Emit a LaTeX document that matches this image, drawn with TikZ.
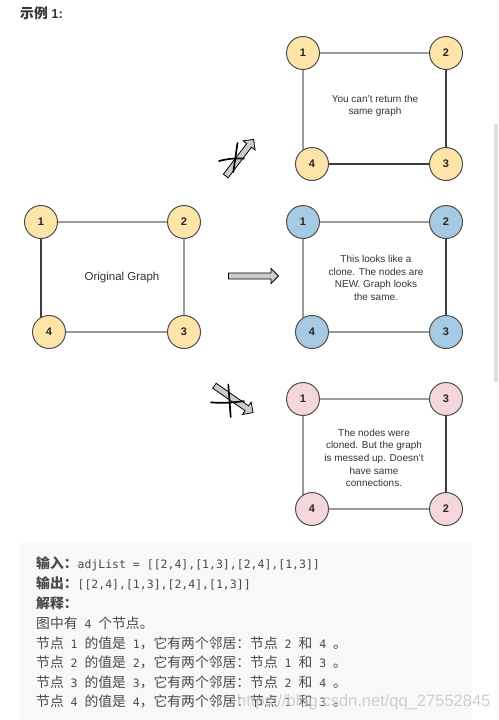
\documentclass[tikz,border=0pt]{standalone}
\usepackage{fontspec}
\setmainfont{Liberation Sans}
\newfontfamily\cjk{Noto Sans CJK SC}
\newfontfamily\codefont{DejaVu Sans Mono}
\usepackage{tikz}
\usetikzlibrary{shapes.arrows,backgrounds}
\definecolor{nodeyellow}{HTML}{FDE4A9}
\definecolor{nodeblue}{HTML}{A6CAE3}
\definecolor{nodepink}{HTML}{F5D6DC}
\definecolor{rimgray}{HTML}{4D4D4D}
\definecolor{edgelight}{HTML}{9A9A9A}
\definecolor{edgedark}{HTML}{3C3C3C}
\definecolor{codebg}{HTML}{F7F8FA}
\definecolor{inktext}{HTML}{333333}
\definecolor{codeink}{HTML}{4A4A4A}
\definecolor{bargray}{HTML}{E0E0E0}
\newcommand{\zh}[1]{{\cjk\fontsize{13.8}{13.8}\selectfont #1}}
\newcommand{\zhb}[1]{{\cjk\bfseries\fontsize{13.8}{13.8}\selectfont #1}}

\begin{document}
\begin{tikzpicture}
		[x=1pt, y=-1pt, inner sep=0pt,
		vertex/.style		= {draw=rimgray, circle, line width=1pt, minimum size=33pt, font=\bfseries\fontsize{11}{11}\selectfont, text=black!85},
		oldnode/.style		= {vertex, fill=nodeyellow},
		clonenode/.style	= {vertex, fill=nodeblue},
		wrongnode/.style	= {vertex, fill=nodepink},
		caption/.style		= {align=center, text=inktext, font=\fontsize{10}{12.6}\selectfont},
		link/.style			= {draw=edgelight, line width=1.2pt},
		linkdark/.style		= {draw=edgedark, line width=1.2pt},
		blockarrow/.style	= {single arrow, draw=black, fill=black!20, line width=0.8pt, inner xsep=0pt, inner ysep=2.6pt, single arrow head extend=4.5pt},
		strike/.style		= {line width=1.7pt, black, line cap=round},
		codeline/.style		= {anchor=base west, text=codeink, font=\codefont\fontsize{11.5}{11.5}\selectfont}]
		
		\useasboundingbox (0,0) rectangle (498,720);
		
		\node [anchor=west, text=inktext, font=\bfseries\fontsize{13}{13}\selectfont] at (20,13) (title) {\zhb{示例} 1:};
		
		% original graph
		\node [oldnode]	at (41,222)		(o1) {1};
		\node [oldnode]	at (184,222)	(o2) {2};
		\node [oldnode]	at (184,332)	(o3) {3};
		\node [oldnode]	at (49,332)		(o4) {4};
		\node [caption, font=\fontsize{11.5}{13}\selectfont]	at (122,278)	(otext) {Original Graph};
		
		% returned as is
		\node [oldnode]	at (303,53)		(s1) {1};
		\node [oldnode]	at (446,53)		(s2) {2};
		\node [oldnode]	at (446,164)	(s3) {3};
		\node [oldnode]	at (312,164)	(s4) {4};
		\node [caption]	at (375,106)	(stext) {You can't return the\\same graph};
		
		% real clone
		\node [clonenode]	at (303,222)	(c1) {1};
		\node [clonenode]	at (446,222)	(c2) {2};
		\node [clonenode]	at (446,332)	(c3) {3};
		\node [clonenode]	at (312,332)	(c4) {4};
		\node [caption]		at (376,278)	(ctext) {This looks like a\\clone. The nodes are\\NEW. Graph looks\\the same.};
		
		% wrong connections
		\node [wrongnode]	at (303,399)	(m1) {1};
		\node [wrongnode]	at (446,399)	(m3) {3};
		\node [wrongnode]	at (446,509)	(m2) {2};
		\node [wrongnode]	at (312,509)	(m4) {4};
		\node [caption]		at (374,458)	(mtext) {The nodes were\\cloned. But the graph\\is messed up. Doesn't\\have same\\connections.};
		
		\begin{scope}[on background layer]
		\draw [link]		(o1) -- (o2);
		\draw [linkdark]	(o1) -- (o1 |- o4);
		\draw [link]		(o2) -- (o3);
		\draw [link]		(o4) -- (o3);
		\draw [link]		(s1) -- (s2);
		\draw [link]		(s1) -- (s1 |- s4);
		\draw [linkdark]	(s2) -- (s3);
		\draw [linkdark]	(s4) -- (s3);
		\draw [link]		(c1) -- (c2);
		\draw [link]		(c1) -- (c1 |- c4);
		\draw [linkdark]	(c2) -- (c3);
		\draw [link]		(c4) -- (c3);
		\draw [link]		(m1) -- (m3);
		\draw [link]		(m1) -- (m1 |- m4);
		\draw [linkdark]	(m3) -- (m2);
		\draw [link]		(m4) -- (m2);
		\end{scope}
		
		\node [blockarrow, minimum height=50pt]					at (252,276)		(goodarrow) {};
		\node [blockarrow, minimum height=46pt, rotate=52.7]	at (238.8,158.9)	(samearrow) {};
		\node [blockarrow, minimum height=47pt, rotate=-34.8]	at (232.5,398.3)	(messarrow) {};
		
		\draw [strike] (219,161) .. controls (230,158.5) .. (244,158.5);
		\draw [strike] (237.5,143) -- (233.3,172);
		\draw [strike] (211,402.5) .. controls (227,403) .. (244,401.2);
		\draw [strike] (228.3,384.5) -- (230.7,417);
		
		\fill [bargray] (494,124) rectangle (498,382);
		
		\fill [codebg] (20,543) rectangle (472,720);
		\node [codeline] at (36,568.5) (l1) {\zhb{输入：}adjList = [[2,4],[1,3],[2,4],[1,3]]};
		\node [codeline] at (36,588.5) (l2) {\zhb{输出：}[[2,4],[1,3],[2,4],[1,3]]};
		\node [codeline] at (36,608.5) (l3) {\zhb{解释：}};
		\node [codeline] at (36,628.5) (l4) {\zh{图中有} 4 \zh{个节点。}};
		\node [codeline] at (36,648.5) (l5) {\zh{节点} 1 \zh{的值是} 1\zh{，它有两个邻居：节点} 2 \zh{和} 4 \zh{。}};
		\node [codeline] at (36,667.5) (l6) {\zh{节点} 2 \zh{的值是} 2\zh{，它有两个邻居：节点} 1 \zh{和} 3 \zh{。}};
		\node [codeline] at (36,687.5) (l7) {\zh{节点} 3 \zh{的值是} 3\zh{，它有两个邻居：节点} 2 \zh{和} 4 \zh{。}};
		\node [codeline] at (36,706.5) (l8) {\zh{节点} 4 \zh{的值是} 4\zh{，它有两个邻居：节点} 1 \zh{和} 3 \zh{。}};
		
		\node [anchor=west, text=black!22, opacity=0.85, font=\fontsize{16.5}{16.5}\selectfont] at (237,702) (mark) {https://blog.csdn.net/qq\_27552845};
		\end{tikzpicture}
\end{document}
